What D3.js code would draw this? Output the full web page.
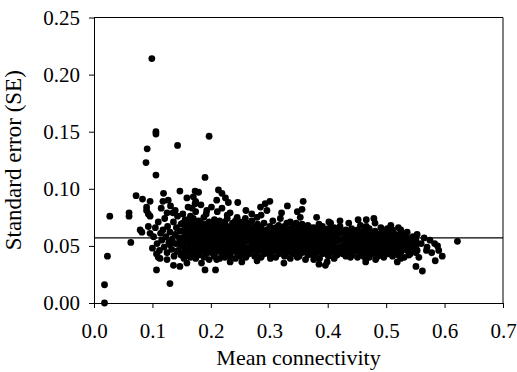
<!DOCTYPE html>
<html><head><meta charset="utf-8">
<script src="https://cdn.jsdelivr.net/npm/d3@7"></script>
<style>body{margin:0;background:#fff}</style>
</head><body>
<svg id="chart" width="517" height="372"></svg>
<script>
const xTicks = [0, 0.1, 0.2, 0.3, 0.4, 0.5, 0.6, 0.7];
const yTicks = [0, 0.05, 0.10, 0.15, 0.20, 0.25];
const xTitle = "Mean connectivity";
const yTitle = "Standard error (SE)";
const referenceSE = 0.057;

// sparse / edge points
const outerPoints = [
[0.018,0.000],[0.018,0.016],[0.023,0.041],[0.027,0.076],[0.060,0.079],[0.060,0.076],[0.063,0.053],
[0.072,0.094],[0.083,0.091],[0.096,0.089],[0.090,0.084],[0.090,0.081],[0.093,0.078],[0.096,0.076],
[0.099,0.214],[0.106,0.150],[0.106,0.148],[0.091,0.135],[0.089,0.123],[0.106,0.112],[0.143,0.138],
[0.197,0.146],[0.190,0.110],
[0.119,0.096],[0.118,0.089],[0.125,0.079],[0.139,0.081],[0.147,0.098],[0.159,0.092],[0.173,0.098],[0.174,0.089],
[0.079,0.064],[0.096,0.061],[0.093,0.067],[0.082,0.062],[0.100,0.048],[0.107,0.043],[0.113,0.039],
[0.107,0.029],[0.130,0.017],[0.125,0.038],[0.136,0.033],[0.147,0.032],[0.130,0.051],[0.145,0.052],
[0.142,0.045],[0.154,0.039],[0.159,0.035],
[0.179,0.097],[0.213,0.099],[0.219,0.096],[0.225,0.092],[0.230,0.088],[0.246,0.088],[0.170,0.093],
[0.173,0.087],[0.168,0.083],[0.193,0.081],[0.211,0.080],[0.228,0.077],[0.245,0.075],[0.259,0.074],
[0.270,0.078],[0.279,0.075],[0.285,0.084],[0.293,0.087],[0.301,0.089],[0.358,0.089],[0.348,0.080],
[0.353,0.075],[0.319,0.074],[0.330,0.070],[0.385,0.069],[0.402,0.071],[0.370,0.066],[0.273,0.062],
[0.405,0.070],[0.421,0.072],[0.452,0.073],[0.466,0.073],[0.479,0.074],[0.438,0.063],[0.502,0.065],
[0.508,0.068],[0.525,0.064],[0.553,0.060],
[0.622,0.054],[0.588,0.050],[0.569,0.046],[0.553,0.046],[0.556,0.040],[0.551,0.032],[0.562,0.028],
[0.584,0.037],[0.539,0.042],[0.525,0.039],[0.519,0.036],[0.505,0.043],[0.511,0.046],[0.482,0.038],
[0.465,0.036],[0.465,0.039],[0.439,0.040],[0.422,0.045],[0.396,0.033],[0.399,0.036],
[0.190,0.029],[0.208,0.029],[0.184,0.035],[0.210,0.038],[0.233,0.036],[0.253,0.036],[0.279,0.037],
[0.302,0.039],[0.325,0.035],[0.348,0.040],[0.362,0.038],[0.385,0.034],[0.376,0.038],
[0.560,0.052],[0.565,0.057],[0.570,0.049],[0.575,0.055],[0.578,0.044],[0.583,0.052],[0.590,0.046],[0.596,0.041]
];

// dense cloud, x 0.10 - 0.25
const cloudLeft = [
[0.102,0.058],[0.105,0.066],[0.108,0.052],[0.110,0.071],[0.112,0.046],[0.114,0.061],[0.116,0.055],[0.118,0.064],
[0.120,0.049],[0.121,0.074],[0.123,0.058],[0.125,0.044],[0.126,0.067],[0.128,0.053],[0.130,0.062],[0.131,0.085],
[0.133,0.047],[0.134,0.056],[0.136,0.071],[0.137,0.041],[0.139,0.060],[0.140,0.052],[0.141,0.066],[0.143,0.076],
[0.144,0.046],[0.146,0.057],[0.147,0.063],[0.149,0.042],[0.149,0.069],[0.150,0.051],[0.115,0.083],[0.127,0.090],
[0.110,0.040],[0.135,0.079],
[0.152,0.044],[0.152,0.050],[0.152,0.057],[0.152,0.063],[0.152,0.070],[0.152,0.078],
[0.156,0.041],[0.156,0.047],[0.156,0.054],[0.156,0.060],[0.156,0.066],[0.156,0.073],
[0.161,0.045],[0.161,0.052],[0.161,0.058],[0.161,0.064],[0.161,0.071],[0.161,0.084],
[0.165,0.040],[0.165,0.048],[0.165,0.055],[0.165,0.061],[0.165,0.068],[0.165,0.076],
[0.170,0.043],[0.170,0.050],[0.170,0.056],[0.170,0.063],[0.170,0.069],[0.170,0.074],
[0.174,0.039],[0.174,0.046],[0.174,0.053],[0.174,0.059],[0.174,0.066],[0.174,0.080],
[0.179,0.042],[0.179,0.049],[0.179,0.055],[0.179,0.062],[0.179,0.068],[0.179,0.072],
[0.183,0.045],[0.183,0.051],[0.183,0.058],[0.183,0.064],[0.183,0.070],[0.183,0.086],
[0.188,0.040],[0.188,0.047],[0.188,0.053],[0.188,0.060],[0.188,0.067],[0.188,0.075],
[0.192,0.043],[0.192,0.050],[0.192,0.056],[0.192,0.062],[0.192,0.069],[0.192,0.078],
[0.197,0.038],[0.197,0.046],[0.197,0.052],[0.197,0.059],[0.197,0.065],[0.197,0.071],
[0.201,0.044],[0.201,0.049],[0.201,0.055],[0.201,0.061],[0.201,0.068],[0.201,0.084],
[0.206,0.041],[0.206,0.047],[0.206,0.054],[0.206,0.060],[0.206,0.066],[0.206,0.073],
[0.210,0.045],[0.210,0.051],[0.210,0.057],[0.210,0.063],[0.210,0.070],[0.210,0.090],
[0.215,0.039],[0.215,0.048],[0.215,0.053],[0.215,0.059],[0.215,0.065],[0.215,0.072],
[0.219,0.043],[0.219,0.050],[0.219,0.056],[0.219,0.062],[0.219,0.068],[0.219,0.083],
[0.224,0.040],[0.224,0.046],[0.224,0.052],[0.224,0.058],[0.224,0.064],[0.224,0.071],
[0.228,0.044],[0.228,0.049],[0.228,0.055],[0.228,0.061],[0.228,0.067],[0.228,0.074],
[0.233,0.041],[0.233,0.047],[0.233,0.053],[0.233,0.060],[0.233,0.066],[0.233,0.079],
[0.237,0.045],[0.237,0.051],[0.237,0.057],[0.237,0.063],[0.237,0.070],
[0.242,0.039],[0.242,0.048],[0.242,0.054],[0.242,0.059],[0.242,0.065],[0.242,0.072],
[0.246,0.043],[0.246,0.050],[0.246,0.056],[0.246,0.062],[0.246,0.068],
[0.250,0.041],[0.250,0.046],[0.250,0.053],[0.250,0.058],[0.250,0.064],[0.250,0.071]
];

// cloud, x 0.25 - 0.40
const cloudMiddle = [
[0.255,0.044],[0.255,0.050],[0.255,0.057],[0.255,0.063],[0.255,0.069],
[0.260,0.040],[0.260,0.047],[0.260,0.054],[0.260,0.060],[0.260,0.066],[0.260,0.081],
[0.265,0.043],[0.265,0.049],[0.265,0.056],[0.265,0.062],[0.265,0.070],
[0.270,0.046],[0.270,0.052],[0.270,0.058],[0.270,0.065],[0.270,0.072],
[0.275,0.041],[0.275,0.048],[0.275,0.055],[0.275,0.061],[0.275,0.067],
[0.280,0.044],[0.280,0.051],[0.280,0.057],[0.280,0.063],[0.280,0.069],
[0.286,0.040],[0.286,0.047],[0.286,0.053],[0.286,0.060],[0.286,0.066],[0.286,0.077],
[0.291,0.043],[0.291,0.050],[0.291,0.056],[0.291,0.062],[0.291,0.070],
[0.296,0.046],[0.296,0.052],[0.296,0.058],[0.296,0.064],[0.296,0.081],
[0.301,0.042],[0.301,0.048],[0.301,0.055],[0.301,0.061],[0.301,0.067],
[0.306,0.045],[0.306,0.051],[0.306,0.057],[0.306,0.063],[0.306,0.072],
[0.311,0.040],[0.311,0.047],[0.311,0.054],[0.311,0.060],[0.311,0.066],
[0.316,0.043],[0.316,0.050],[0.316,0.056],[0.316,0.062],[0.316,0.068],
[0.321,0.046],[0.321,0.052],[0.321,0.058],[0.321,0.064],[0.321,0.079],
[0.326,0.041],[0.326,0.048],[0.326,0.054],[0.326,0.061],[0.326,0.067],
[0.331,0.044],[0.331,0.050],[0.331,0.057],[0.331,0.063],[0.331,0.085],
[0.336,0.039],[0.336,0.047],[0.336,0.053],[0.336,0.059],[0.336,0.065],[0.336,0.071],
[0.341,0.043],[0.341,0.049],[0.341,0.055],[0.341,0.062],[0.341,0.068],
[0.346,0.045],[0.346,0.052],[0.346,0.058],[0.346,0.064],[0.346,0.070],
[0.351,0.041],[0.351,0.048],[0.351,0.054],[0.351,0.060],[0.351,0.066],
[0.356,0.044],[0.356,0.050],[0.356,0.057],[0.356,0.063],[0.356,0.069],[0.356,0.082],
[0.361,0.046],[0.361,0.053],[0.361,0.059],[0.361,0.065],
[0.366,0.042],[0.366,0.049],[0.366,0.055],[0.366,0.061],[0.366,0.068],
[0.371,0.045],[0.371,0.051],[0.371,0.058],[0.371,0.063],
[0.376,0.041],[0.376,0.047],[0.376,0.054],[0.376,0.060],[0.376,0.066],
[0.381,0.044],[0.381,0.050],[0.381,0.056],[0.381,0.062],[0.381,0.075],
[0.386,0.039],[0.386,0.046],[0.386,0.052],[0.386,0.059],[0.386,0.064],
[0.391,0.043],[0.391,0.049],[0.391,0.055],[0.391,0.061],[0.391,0.067],
[0.396,0.045],[0.396,0.051],[0.396,0.057],[0.396,0.063]
];

// cloud, x 0.40 - 0.55
const cloudRight = [
[0.401,0.041],[0.401,0.047],[0.401,0.053],[0.401,0.059],[0.401,0.065],
[0.406,0.044],[0.406,0.050],[0.406,0.056],[0.406,0.062],
[0.411,0.039],[0.411,0.046],[0.411,0.052],[0.411,0.058],[0.411,0.066],
[0.416,0.042],[0.416,0.048],[0.416,0.054],[0.416,0.060],[0.416,0.064],
[0.421,0.049],[0.421,0.055],[0.421,0.061],[0.421,0.067],
[0.426,0.043],[0.426,0.050],[0.426,0.056],[0.426,0.062],
[0.431,0.041],[0.431,0.046],[0.431,0.052],[0.431,0.058],[0.431,0.064],
[0.436,0.044],[0.436,0.049],[0.436,0.055],[0.436,0.060],[0.436,0.070],
[0.441,0.042],[0.441,0.047],[0.441,0.053],[0.441,0.059],[0.441,0.065],
[0.446,0.045],[0.446,0.050],[0.446,0.056],[0.446,0.062],
[0.451,0.040],[0.451,0.047],[0.451,0.052],[0.451,0.058],[0.451,0.064],
[0.456,0.043],[0.456,0.049],[0.456,0.055],[0.456,0.061],[0.456,0.068],
[0.461,0.041],[0.461,0.046],[0.461,0.052],[0.461,0.057],[0.461,0.063],
[0.466,0.044],[0.466,0.050],[0.466,0.055],[0.466,0.061],[0.466,0.067],
[0.471,0.040],[0.471,0.047],[0.471,0.053],[0.471,0.059],[0.471,0.065],
[0.476,0.043],[0.476,0.049],[0.476,0.054],[0.476,0.060],
[0.481,0.045],[0.481,0.051],[0.481,0.057],[0.481,0.063],[0.481,0.070],
[0.486,0.041],[0.486,0.047],[0.486,0.052],[0.486,0.058],
[0.491,0.044],[0.491,0.049],[0.491,0.055],[0.491,0.061],[0.491,0.066],
[0.496,0.040],[0.496,0.046],[0.496,0.051],[0.496,0.057],[0.496,0.062],
[0.501,0.043],[0.501,0.048],[0.501,0.054],[0.501,0.059],
[0.506,0.045],[0.506,0.050],[0.506,0.056],[0.506,0.062],
[0.511,0.041],[0.511,0.052],[0.511,0.058],[0.511,0.064],
[0.516,0.044],[0.516,0.049],[0.516,0.055],[0.516,0.060],
[0.521,0.042],[0.521,0.047],[0.521,0.053],[0.521,0.058],[0.521,0.066],
[0.526,0.045],[0.526,0.050],[0.526,0.056],[0.526,0.061],
[0.531,0.040],[0.531,0.048],[0.531,0.054],[0.531,0.059],
[0.536,0.046],[0.536,0.051],[0.536,0.057],[0.536,0.062],
[0.541,0.043],[0.541,0.049],[0.541,0.055],
[0.546,0.047],[0.546,0.052],[0.546,0.058],
[0.551,0.044],[0.551,0.050],[0.551,0.055]
];

const points = [].concat(outerPoints, cloudLeft, cloudMiddle, cloudRight);

(function draw() {
  const svg = d3.select("#chart");
  const pLeft = 94, pRight = 503, pTop = 17.5, pBottom = 303;
  const x = d3.scaleLinear().domain([0, 0.7]).range([pLeft, pRight]);
  const y = d3.scaleLinear().domain([0, 0.25]).range([pBottom, pTop]);
  const font = "'Liberation Serif','Times New Roman',serif";

  svg.append("line").attr("x1", pLeft).attr("x2", pRight).attr("y1", y(0.25)).attr("y2", y(0.25))
    .attr("stroke", "#000").attr("stroke-width", 1);
  svg.append("line").attr("x1", pRight).attr("x2", pRight).attr("y1", y(0.25)).attr("y2", y(0))
    .attr("stroke", "#000").attr("stroke-width", 1);

  const xAxis = svg.append("g").attr("transform", `translate(0,${pBottom})`)
    .call(d3.axisBottom(x).tickValues(xTicks).tickFormat(d3.format(".1f")).tickSizeInner(5).tickSizeOuter(0).tickPadding(15));
  const yAxis = svg.append("g").attr("transform", `translate(${pLeft},0)`)
    .call(d3.axisLeft(y).tickValues(yTicks).tickFormat(d3.format(".2f")).tickSizeInner(5).tickSizeOuter(0).tickPadding(9));
  [xAxis, yAxis].forEach(g => {
    g.selectAll("path,line").attr("stroke", "#000");
    g.selectAll("text").attr("fill", "#000").style("font-family", font).style("font-size", "21px");
  });

  svg.append("line").attr("x1", x(0)).attr("x2", x(0.7)).attr("y1", y(referenceSE)).attr("y2", y(referenceSE))
    .attr("stroke", "#000").attr("stroke-width", 1.2);

  svg.append("g").selectAll("circle").data(points).join("circle")
    .attr("cx", d => x(d[0])).attr("cy", d => y(d[1])).attr("r", 3.4).attr("fill", "#000");

  svg.append("text").attr("x", (pLeft + pRight) / 2).attr("y", 365).attr("text-anchor", "middle")
    .style("font-family", font).style("font-size", "22px").text(xTitle);
  svg.append("text").attr("transform", `translate(21,${(pTop + pBottom) / 2}) rotate(-90)`).attr("text-anchor", "middle")
    .style("font-family", font).style("font-size", "23px").text(yTitle);
})();
</script>
</body></html>
